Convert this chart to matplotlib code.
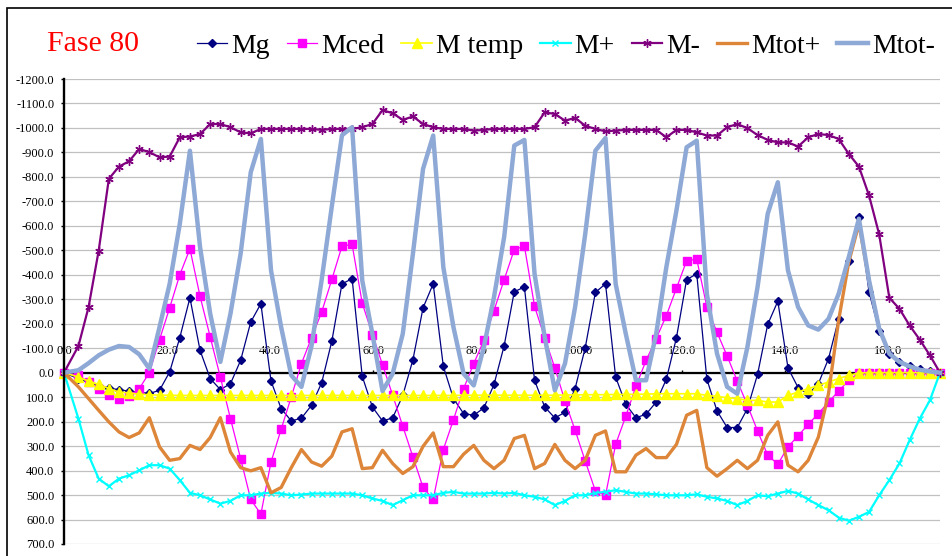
import numpy as np
import matplotlib
matplotlib.use('Agg')
import matplotlib.pyplot as plt
from matplotlib.patches import Rectangle
from matplotlib.ticker import FormatStrFormatter

# stations along the beam
x = np.concatenate(([0.0], np.linspace(2.8, 170.0, 86)))

mg = [0, 25, 40, 55, 62, 70, 75, 80, 85, 72,
      -3, -143, -306, -91, 24, 69, 45, -50, -207, -282,
      34, 147, 197, 186, 133, 41, -129, -363, -384,
      15, 140, 197, 185, 93, -53, -265, -363, -26, 106,
      167, 174, 144, 48, -110, -331, -350, 31, 140, 185,
      162, 65, -102, -328, -363, 18, 129, 184, 170,
      120, 27, -143, -380, -404, 27, 156, 224, 224, 147,
      7, -197, -292, -20, 61, 88, 45, -57, -220, -458,
      -638, -329, -170, -75, -44, -26, -16, -7, 0]

mced = [0, 11, 38, 65, 92, 106, 97, 65, 0, -135,
        -265, -400, -506, -312, -146, 18, 188, 351, 518, 578,
        365, 231, 99, -37, -143, -248, -381, -517, -524,
        -284, -156, -33, 92, 219, 344, 469, 518, 314, 192,
        65, -37, -132, -254, -380, -503, -517, -271, -143, -20,
        116, 235, 361, 483, 501, 293, 178, 56, -50,
        -139, -233, -345, -457, -464, -269, -165, -68, 34, 133,
        238, 337, 374, 303, 258, 211, 167, 120, 75, 31,
        1, 0, 0, 0, 0, 0, 0, 0, 0]

mtemp = [0, 18, 34, 48, 65, 79, 83, 88, 90, 92,
         92, 93, 93, 93, 93, 93, 93, 93, 93, 93,
         93, 93, 93, 93, 93, 93, 93, 93, 93,
         93, 93, 93, 93, 93, 93, 93, 93, 93, 93,
         92, 92, 92, 92, 92, 92, 92, 92, 92, 92,
         91, 91, 90, 90, 90, 89, 89, 88, 88,
         86, 86, 86, 86, 86, 93, 97, 102, 106, 113,
         113, 120, 120, 93, 79, 65, 52, 38, 24, 11,
         1, 0, 0, 0, 0, 0, 0, 0, 0]

mplus = [0, 188, 337, 433, 464, 433, 419, 399, 378, 378,
         392, 439, 491, 501, 518, 535, 524, 501, 501, 494,
         491, 494, 501, 498, 494, 494, 494, 494, 494,
         501, 514, 524, 541, 521, 501, 501, 501, 491, 487,
         494, 494, 494, 491, 494, 491, 501, 507, 518, 541,
         524, 501, 501, 491, 487, 480, 487, 494, 494,
         497, 501, 501, 501, 497, 507, 514, 524, 541, 524,
         501, 505, 494, 483, 494, 518, 541, 562, 592, 605,
         589, 569, 501, 439, 371, 276, 188, 113, 0]

mminus = [0, -109, -268, -499, -792, -842, -864, -914, -901, -880,
          -883, -962, -965, -975, -1016, -1016, -1003, -982, -978, -996,
          -996, -996, -996, -996, -996, -992, -996, -996, -996,
          -1003, -1016, -1073, -1060, -1033, -1047, -1016, -1003, -996, -996,
          -996, -989, -992, -996, -996, -996, -996, -1003, -1064, -1057,
          -1030, -1041, -1009, -996, -986, -989, -992, -992, -992,
          -992, -962, -992, -992, -982, -969, -969, -1003, -1016, -999,
          -971, -951, -941, -941, -924, -962, -975, -971, -955, -894,
          -842, -724, -565, -306, -261, -193, -135, -71, 0]

mtot_p = [0, 58, 106, 154, 201, 242, 265, 246, 184, 303,
          358, 351, 297, 314, 265, 184, 324, 388, 401, 388,
          491, 469, 388, 314, 365, 382, 341, 242, 229,
          392, 388, 317, 371, 412, 384, 301, 246, 384, 384,
          333, 297, 358, 392, 358, 269, 256, 392, 371, 293,
          358, 392, 358, 256, 238, 405, 405, 337, 310,
          347, 347, 293, 174, 154, 388, 423, 392, 358, 392,
          358, 256, 201, 378, 405, 358, 263, 86, -214, -452,
          -608, -377, -180, -78, -44, -26, -12, -5, 0]

mtot_m = [0, -10, -39, -71, -94, -109, -105, -75, -16, -186,
          -363, -608, -907, -513, -241, -44, -241, -486, -819, -955,
          -418, -186, 11, 58, -110, -380, -680, -970, -1003,
          -377, -159, 75, 4, -159, -486, -833, -969, -431, -186,
          4, 52, -105, -309, -554, -928, -951, -404, -146, 72,
          -37, -268, -567, -907, -959, -363, -159, 31, 31,
          -159, -431, -663, -921, -948, -322, -78, 58, 86, -105,
          -350, -649, -778, -418, -268, -193, -176, -220, -322, -472,
          -629, -377, -180, -78, -44, -26, -12, -5, 0]

series = [
    ('Mg', mg, dict(color='#000080', lw=0.9, marker='D', ms=4.5)),
    ('Mced', mced, dict(color='#FF00FF', lw=0.9, marker='s', ms=5.5)),
    ('M temp', mtemp, dict(color='#FFFF00', lw=1.2, marker='^', ms=7)),
    ('M+', mplus, dict(color='#00FFFF', lw=1.6, marker='x', ms=5, mew=1)),
    ('M-', mminus, dict(color='#800080', lw=1.6, marker=(6, 2, 0), ms=6, mew=1)),
    ('Mtot+', mtot_p, dict(color='#DD8538', lw=2.4)),
    ('Mtot-', mtot_m, dict(color='#8EA9D6', lw=3.2)),
]

plt.rcParams['font.family'] = ['Liberation Serif', 'DejaVu Serif']

fig = plt.figure(figsize=(9.53, 5.56), dpi=100)
ax = fig.add_axes([64 / 953, 12 / 556, 876 / 953, 465 / 556])

handles = []
for name, vals, style in series:
    h, = ax.plot(x, vals, label=name, clip_on=False, **style)
    handles.append(h)

ax.set_xlim(0, 170)
ax.set_ylim(700, -1200)
ax.set_yticks(np.arange(-1200, 701, 100))
ax.set_xticks(np.arange(0, 161, 20))
ax.yaxis.set_major_formatter(FormatStrFormatter('%.1f'))
ax.xaxis.set_major_formatter(FormatStrFormatter('%.1f'))
ax.grid(axis='y', color='#C0C0C0', lw=0.9)
ax.set_axisbelow(True)

# zero line carries the x labels on its upper side
ax.spines['right'].set_visible(False)
ax.spines['bottom'].set_visible(False)
ax.spines['top'].set_position(('data', 0))
ax.spines['top'].set_linewidth(1.6)
ax.spines['top'].set_zorder(1.5)
ax.spines['left'].set_linewidth(1.7)
ax.xaxis.set_ticks_position('top')
ax.tick_params(axis='x', direction='out', length=2.5, width=1, pad=8.5, labelsize=9)
ax.tick_params(axis='y', direction='out', length=2.5, width=1, pad=4.5, labelsize=9)

fig.text(47 / 953, 1 - 44 / 556, 'Fase 80', color='red', fontsize=21.5, ha='left', va='center')

fig.legend(handles=handles, loc='center', bbox_to_anchor=(566 / 953, 1 - 46 / 556),
           ncol=7, frameon=False, prop={'size': 20}, numpoints=1,
           handlelength=1.1, handletextpad=0.15, columnspacing=0.6, borderaxespad=0)

# chart area border
fig.add_artist(Rectangle((7.5 / 953, -0.05), 1.2, 1 - 7.5 / 556 + 0.05,
                         transform=fig.transFigure, fill=False, ec='black', lw=1.2))

fig.savefig('out.png', dpi=100)
